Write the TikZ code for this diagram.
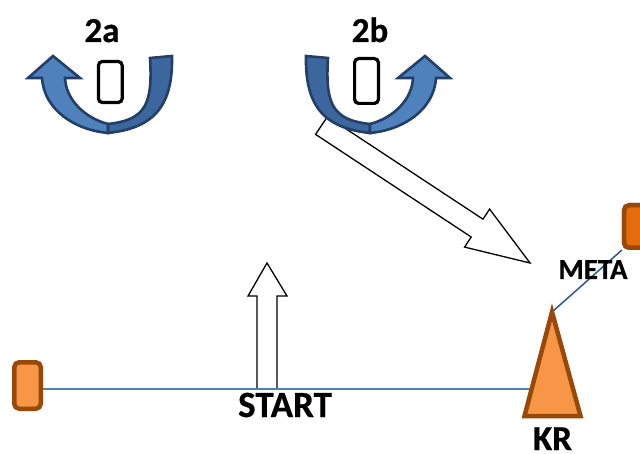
\documentclass[tikz,border=0pt]{standalone}
\usepackage{fontspec}
\setmainfont{Carlito}
\newfontfamily\lblfont{Carlito}[UprightFont=*-Bold,FakeBold=0.6]
\definecolor{bandlight}{HTML}{4F81BD}
\definecolor{banddark}{HTML}{3B669E}
\definecolor{bandline}{HTML}{243F66}
\definecolor{orfill}{HTML}{F79646}
\definecolor{ordark}{HTML}{E46C0A}
\definecolor{orline}{HTML}{984807}
\definecolor{hlinecol}{HTML}{4F81BD}
\definecolor{mlinecol}{HTML}{2C5694}
\newcommand\drawcurvedarrow{%
  \filldraw[darkband] (150,58) -- (172,56) .. controls (173,105) and (155,128) .. (108,133)
    -- (108,124) .. controls (145,120) and (153,105) .. (150,58) -- cycle;
  \filldraw[lightband] (42,78) .. controls (44,110) and (75,130) .. (108,133)
    -- (108,124) .. controls (85,118) and (66,100) .. (65,78)
    -- (80,78) -- (53,56) -- (28,78) -- cycle;
}
\begin{document}
\begin{tikzpicture}[x=1pt,y=-1pt,
  darkband/.style={fill=banddark,draw=bandline,line width=2.6pt,line join=miter},
  lightband/.style={fill=bandlight,draw=bandline,line width=2.6pt,line join=miter},
  slot/.style={draw=black,fill=white,line width=3.2pt,rounded corners=4pt,inner sep=0pt},
  orbox/.style={draw=orline,line width=4.5pt,rounded corners=5pt,inner sep=0pt},
  blockarrow/.style={draw=black,fill=white,line width=1.3pt,line join=miter},
  lbl/.style={inner sep=0pt,anchor=base,font=\lblfont\fontsize{#1}{#1}\selectfont},
  hl/.style={draw=hlinecol,line width=1.5pt},
  ml/.style={draw=mlinecol,line width=1.5pt}]
\useasboundingbox (0,0) rectangle (640,454);
% diagonal block arrow (behind 2b)
\filldraw[blockarrow] (327.4,116.6) -- (483.0,219.2) -- (489.6,209.1) -- (530,263)
  -- (464.6,247.1) -- (471.2,237.0) -- (315.6,134.4) -- cycle;
% curved arrows
\drawcurvedarrow
\begin{scope}[shift={(478,0)},xscale=-1]
\drawcurvedarrow
\end{scope}
\node[slot,minimum width=23.8pt,minimum height=41pt] (slotA) at (110.3,82) {};
\node[slot,minimum width=23.8pt,minimum height=44.8pt] (slotB) at (366.5,81) {};
\node[lbl=35] (l2a) at (102,42) {2a};
\node[lbl=35] (l2b) at (370,42) {2b};
% up block arrow
\filldraw[blockarrow] (257,389) -- (257,296) -- (248,296) -- (267,263) -- (287,296)
  -- (277,296) -- (277,389) -- cycle;
% left box and line
\node[orbox,fill=orfill,minimum width=26.5pt,minimum height=46.5pt] (lbox) at (27.5,385.5) {};
\coordinate (hy) at (0,389);
\coordinate (hend) at (531,389);
\draw[hl] (lbox.east |- hy) -- (hend);
% meta box and line
\coordinate (krtop) at (552,312);
\coordinate (krl) at (524.5,416);
\coordinate (krr) at (580.5,416);
\node[orbox,fill=ordark,minimum width=35.75pt,minimum height=42.5pt] (meta) at (642,226.5) {};
\draw[ml] (krtop) -- (meta.south west);
\node[orbox,fill=ordark,minimum width=35.75pt,minimum height=42.5pt] at (642,226.5) {};
% triangle
\filldraw[fill=orfill,draw=orline,line width=4.5pt,line join=miter] (krtop) -- (krr) -- (krl) -- cycle;
\node[lbl=37] (start) at (285,417) {START};
\node[lbl=29] (metal) at (593,279) {META};
\node[lbl=35] (kr) at (552.5,450) {KR};
\end{tikzpicture}
\end{document}
